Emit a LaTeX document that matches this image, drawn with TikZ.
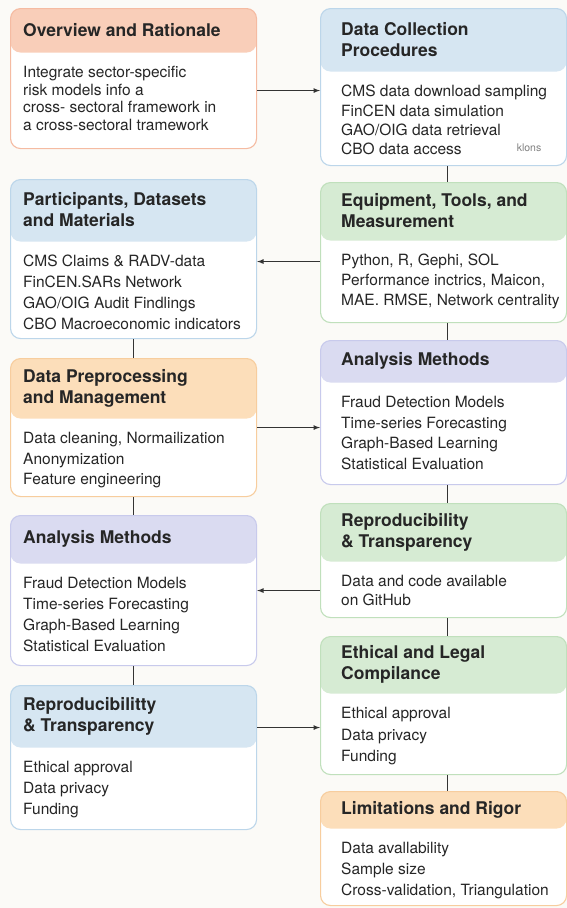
\documentclass[tikz,border=0pt]{standalone}
\usepackage{fontspec}
\setmainfont{TeX Gyre Heros}
\usetikzlibrary{positioning}
\tikzset{>=latex}
\definecolor{paper}{HTML}{FBFAF7}
\definecolor{ink}{HTML}{333333}
\definecolor{txt}{HTML}{262626}
\definecolor{salmonH}{HTML}{F9CEB9}\definecolor{salmonL}{HTML}{F5BBA2}
\definecolor{blueH}{HTML}{D6E6F2}\definecolor{blueL}{HTML}{BCD6EA}
\definecolor{greenH}{HTML}{D6EBD3}\definecolor{greenL}{HTML}{C0E0BC}
\definecolor{lilacH}{HTML}{DADBF1}\definecolor{lilacL}{HTML}{C8CAEC}
\definecolor{peachH}{HTML}{FCDEBA}\definecolor{peachL}{HTML}{F7CD9E}
\tikzset{
    card/.style 2 args={draw=#1L, line width=1.1pt, rounded corners=10pt, fill=white,
        anchor=north west, minimum width=246pt, inner sep=0pt,
        path picture={\fill[#1H](path picture bounding box.north west)rectangle
            ([yshift=-#2pt]path picture bounding box.north east);}},
    head/.style={anchor=west, align=left, inner sep=0pt, text=txt,
        font=\fontsize{17.5}{21}\selectfont\bfseries},
    body/.style={anchor=north west, align=left, inner sep=0pt, text=txt},
    link/.style={draw=ink, line width=1.2pt},
}
\newcommand{\pad}{13}
% name, top left, height, header height, colour, title, lines, line skip
\newcommand{\card}[8]{
    \node[card={#5}{#4}, minimum height=#3pt](#1)at(#2){};
    \node[head](#1-t)at([shift={(\pad pt,-#4pt/2)}]#1.north west){#6};
    \node[body, font=\fontsize{15.5}{#8}\selectfont](#1-b)at([shift={(\pad pt,-#4pt-14pt)}]#1.north west){#7};
}

\begin{document}
\begin{tikzpicture}[x=1pt, y=-1pt]
    \fill[paper](0, 0)rectangle(567, 908);
    \useasboundingbox(0, 0)rectangle(567, 908);
    % left column
    \card{over}{10, 8}{140}{44}{salmon}{Overview and Rationale}
        {Integrate sector-specific\\risk models info a\\cross- sectoral framework in\\a cross-sectoral tramework}{17.7}
    \card{part}{10, 179}{159}{62}{blue}{Participants, Datasets\\and Materials}
        {CMS Claims \& RADV-data\\FinCEN.SARs Network\\GAO/OIG Audit Findlings\\CBO Macroeconomic indicators}{21}
    \card{prep}{10, 358}{138}{60}{peach}{Data Preprocessing\\and Management}
        {Data cleaning, Normailization\\Anonymization\\Feature engineering}{20.5}
    \card{anaL}{10, 515}{150}{48}{lilac}{Analysis Methods}
        {Fraud Detection Models\\Time-series Forecasting\\Graph-Based Learning\\Statistical Evaluation}{21}
    \card{reprL}{10, 685}{144}{62}{blue}{Reproducibilitty\\\& Transparency}
        {Ethical approval\\Data privacy\\Funding}{21}
    % right column
    \renewcommand{\pad}{21}
    \card{dc}{320, 8}{157}{63}{blue}{Data Collection\\Procedures}
        {CMS data download sampling\\FinCEN data simulation\\GAO/OIG data retrieval\\CBO data access}{19.3}
    \node[text=gray, font=\fontsize{10.5}{12}\selectfont](dc-k)at(529, 148){klons};
    \card{eq}{320, 182}{140}{58}{green}{Equipment, Tools, and\\Measurement}
        {Python, R, Gephi, SOL\\Performance inctrics, Maicon,\\MAE. RMSE, Network centrality}{20}
    \card{anaR}{320, 340}{144}{42}{lilac}{Analysis Methods}
        {Fraud Detection Models\\Time-series Forecasting\\Graph-Based Learning\\Statistical Evaluation}{20.5}
    \card{reprR}{320, 503}{114}{58}{green}{Reproducibility\\\& Transparency}
        {Data and code available\\on GitHub}{19}
    \card{eth}{320, 636}{138}{57}{green}{Ethical and Legal\\Compilance}
        {Ethical approval\\Data privacy\\Funding}{21.5}
    \card{lim}{320, 791}{114}{37}{peach}{Limitations and Rigor}
        {Data avallability\\Sample size\\Cross-validation, Triangulation}{21}
    % vertical links
    \draw[link](part)--(prep);
    \draw[link](prep)--(anaL);
    \draw[link](anaL)--(reprL);
    \foreach \a/\b in {dc/eq, eq/anaR, anaR/reprR, reprR/eth, eth/lim}
        \draw[link]([xshift=4pt]\a.south)--([xshift=4pt]\a.south |- \b.north);
    % cross links
    \draw[link, ->]([yshift=-12pt]over.east)coordinate(o1)--(o1 -| dc.west);
    \draw[link, ->]([yshift=-9pt]eq.west)coordinate(e1)--(e1 -| part.east);
    \draw[link, ->](prep.east)--(prep.east -| anaR.west);
    \draw[link, ->](anaL.east -| reprR.west)--(anaL.east);
    \draw[link, ->]([yshift=30pt]reprL.east)coordinate(r1)--(r1 -| eth.west);
\end{tikzpicture}
\end{document}
